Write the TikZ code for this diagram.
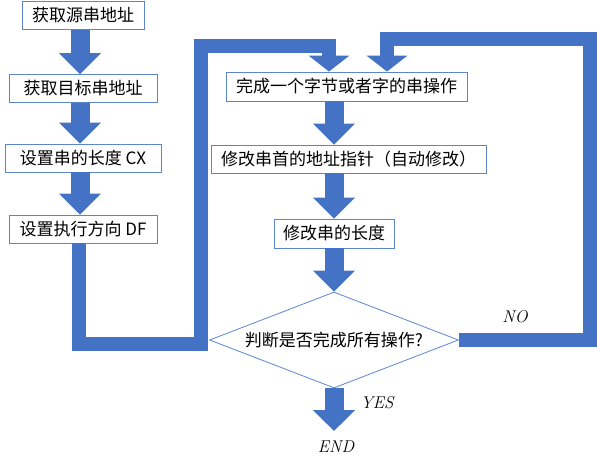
\documentclass[tikz,border=0pt]{standalone}
\usepackage{fontspec}
\setmainfont{Noto Sans CJK SC}
\newfontfamily\tagFont{Latin Modern Roman}
\usetikzlibrary{arrows.meta,shapes.geometric}

\begin{document}
\begin{tikzpicture}[x=1pt, y=-1pt,
    stepBox/.style={draw=boxBorder, line width=0.8pt, fill=white, minimum height=28pt,
        inner sep=0pt, font=\fontsize{17}{20}\selectfont},
    decideBox/.style={diamond, draw=boxBorder, line width=0.8pt, fill=white, aspect=2.6,
        minimum width=249pt, minimum height=96pt, inner sep=0pt, font=\fontsize{17}{20}\selectfont},
    flowArrow/.style={draw=arrowBlue, line width=19pt, -{Triangle[width=41pt,length=21pt]}},
    loopArrow/.style={draw=arrowBlue, line width=14pt, line join=miter, -{Triangle[width=40pt,length=16pt]}},
    tagText/.style={inner sep=0pt, font=\fontsize{17}{20}\tagFont\itshape}]

    \definecolor{arrowBlue}{HTML}{4472C4}
    \definecolor{boxBorder}{HTML}{5B86CF}

    % Fix picture size
    \useasboundingbox (0,0) rectangle (597,461);

    % Left column: set-up steps
    \coordinate (leftAxis) at (80,0);
    \node[stepBox, minimum width=122pt] (getSrc) at (83,15.5) {获取源串地址};
    \node[stepBox, minimum width=148pt] (getDst) at (83,88.5) {获取目标串地址};
    \node[stepBox, minimum width=156pt] (setLen) at (83,158) {设置串的长度 CX};
    \node[stepBox, minimum width=148pt] (setDir) at (83,229) {设置执行方向 DF};

    % Right column: loop body
    \node[stepBox, minimum width=241pt, minimum height=29pt] (doOp) at (346.5,86.5) {完成一个字节或者字的串操作};
    \node[stepBox, minimum width=275pt] (nextAddr) at (348.5,159) {修改串首的地址指针（自动修改）};
    \node[stepBox, minimum width=120pt, minimum height=29pt] (decLen) at (334,233.5) {修改串的长度};
    \node[decideBox] (check) at (334,340) {判断是否完成所有操作?};

    % Labels
    \node[tagText] (yesTag) at (377,403) {YES};
    \node[tagText] (noTag) at (515,317) {NO};
    \node[tagText] (endTag) at (336,447) {END};

    % Straight arrows
    \draw[flowArrow] (getSrc.south -| leftAxis) -- (getDst.north -| leftAxis);
    \draw[flowArrow] (getDst.south -| leftAxis) -- (setLen.north -| leftAxis);
    \draw[flowArrow] (setLen.south -| leftAxis) -- (setDir.north -| leftAxis);
    \draw[flowArrow] (doOp.south -| decLen) -- (nextAddr.north -| decLen);
    \draw[flowArrow] (nextAddr.south -| decLen) -- (decLen.north);
    \draw[flowArrow] (decLen.south) -- (check.north);
    \draw[flowArrow, shorten >=10pt] (check.south) -- (check.south |- endTag.north);

    % Bent arrows into the loop body
    \coordinate (leftCorner) at (201,344);
    \coordinate (leftTop) at (329,45.5);
    \coordinate (rightCorner) at (590,39);
    \draw[loopArrow] ([xshift=-4.5pt]setDir.south) |- (leftCorner) |- (leftTop) -- (leftTop |- doOp.north);
    \draw[loopArrow] (check.east) -| (rightCorner) -| ([xshift=40.5pt]doOp.north);

\end{tikzpicture}
\end{document}
